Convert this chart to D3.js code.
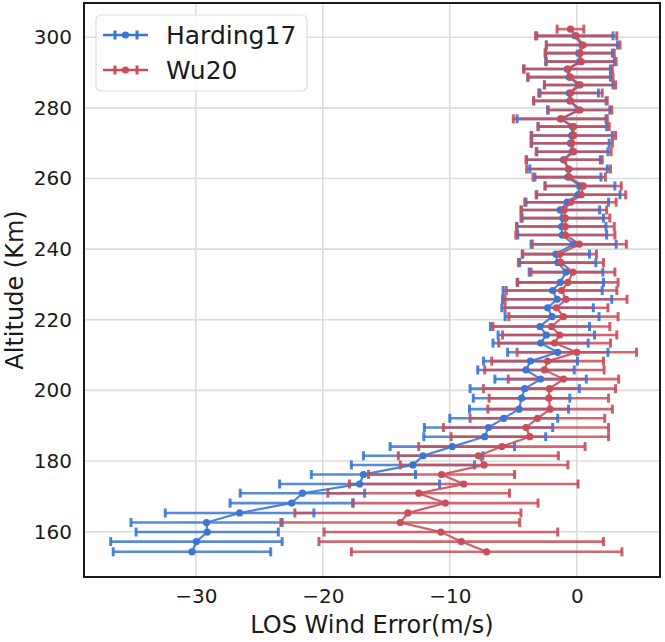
<!DOCTYPE html>
<html>
<head>
<meta charset="utf-8">
<script src="https://cdn.jsdelivr.net/npm/d3@7"></script>
<style>
  html, body { margin: 0; padding: 0; background: #ffffff; }
  svg { display: block; font-family: "DejaVu Sans", sans-serif; }
</style>
</head>
<body>
<svg id="chart" width="665" height="642"></svg>
<script>
// ---- data ----
const altitudes = [
  154.3, 157.2, 159.9, 162.6, 165.3, 168.1, 170.9, 173.5, 176.2, 178.9,
  181.5, 184.1, 186.9, 189.5, 192.1, 194.7, 197.8, 200.5, 203.2, 205.8,
  208.3, 210.8, 213.4, 215.7, 218.1, 220.9, 223.4, 225.8, 228.3, 230.6,
  233.5, 236.2, 238.6, 241.4, 244.0, 246.4, 248.8, 251.1, 253.3, 255.4,
  257.9, 260.4, 262.7, 265.3, 267.6, 270.0, 272.2, 274.7, 276.9, 279.4,
  282.0, 284.2, 286.5, 288.7, 291.0, 293.1, 295.5, 297.8, 300.4, 302.3
];
const harding17Mean = [
  -30.3, -29.95, -29.1, -29.15, -26.55, -22.45, -21.6, -17.1, -16.8, -12.9,
  -12.1, -9.8, -7.25, -6.95, -5.75, -4.55, -4.35, -4.1, -2.85, -4.0,
  -3.65, -1.5, -2.85, -2.4, -2.9, -1.95, -2.3, -1.55, -1.9, -1.3,
  -0.85, -1.5, -1.65, -0.25, -1.15, -1.2, -1.1, -1.3, -0.75, 0.1,
  0.25, -0.7, -0.65, -1.05, -0.35, -0.5, -0.4, -0.35, -1.2, 0.15,
  -0.55, -0.6, 0.15, -0.6, -0.75, 0.25, 0.15, 0.4, -0.15
];
const harding17Std = [
  6.2, 6.75, 5.6, 5.95, 5.85, 4.85, 4.9, 6.3, 4.1, 4.85,
  4.7, 4.9, 4.8, 5.05, 4.25, 3.9, 3.8, 4.3, 3.6, 3.8,
  3.7, 3.95, 3.75, 3.8, 3.9, 3.7, 3.6, 4.3, 3.9, 3.4,
  2.9, 3.0, 2.65, 3.35, 3.5, 3.5, 3.2, 3.1, 3.25, 3.3,
  2.75, 2.6, 3.05, 2.9, 2.8, 3.05, 3.2, 2.7, 3.5, 2.45,
  2.85, 2.3, 2.7, 3.25, 3.4, 2.7, 2.65, 2.8, 3.0
];
const wu20Mean = [
  -7.1, -9.1, -10.7, -13.9, -13.3, -10.35, -12.45, -8.9, -10.65, -7.3,
  -7.75, -5.9, -3.7, -4.0, -3.1, -2.1, -2.2, -2.15, -1.05, -2.55,
  -2.3, 0.0, -1.75, -1.35, -2.0, -1.05, -1.6, -0.85, -1.2, -0.7,
  -0.3, -1.25, -1.35, 0.2, -0.9, -0.9, -0.9, -1.0, -0.5, 0.35,
  0.5, -0.6, -0.65, -1.0, -0.25, -0.4, -0.25, -0.25, -1.3, 0.25,
  -0.5, -0.5, 0.25, -0.5, -0.7, 0.35, 0.25, 0.5, -0.05, -0.5
];
const wu20Std = [
  10.65, 11.2, 9.2, 9.4, 8.9, 7.3, 7.15, 9.0, 5.75, 6.6,
  6.3, 6.55, 6.2, 6.5, 5.3, 4.9, 4.7, 5.2, 4.35, 4.7,
  4.4, 4.7, 4.4, 4.5, 4.6, 4.3, 4.05, 4.8, 4.35, 3.95,
  3.3, 3.35, 2.9, 3.7, 3.9, 3.85, 3.5, 3.35, 3.6, 3.5,
  3.0, 2.85, 3.3, 3.0, 2.95, 3.2, 3.3, 2.8, 3.7, 2.5,
  2.9, 2.5, 2.8, 3.35, 3.5, 2.75, 2.7, 2.9, 3.2, 1.05
];
const seriesNames = ["Harding17", "Wu20"];
const seriesColors = ["#3a76d4", "#c94e58"];
const xTicks = [-30, -20, -10, 0];
const yTicks = [160, 180, 200, 220, 240, 260, 280, 300];
const xLabel = "LOS Wind Error(m/s)";
const yLabel = "Altitude (Km)";

// ---- layout ----
const svg = d3.select("#chart");
const L = 84, R = 660, T = 3, B = 577;
const x = d3.scaleLinear().domain([-38.8, 6.55]).range([L, R]);
const y = d3.scaleLinear().domain([147.17, 309.7]).range([B, T]);

const series = [
  { name: seriesNames[0], color: seriesColors[0],
    rows: harding17Mean.map((m, i) => ({ alt: altitudes[i], mean: m, std: harding17Std[i] })) },
  { name: seriesNames[1], color: seriesColors[1],
    rows: wu20Mean.map((m, i) => ({ alt: altitudes[i], mean: m, std: wu20Std[i] })) }
];

// grid
const grid = svg.append("g");
grid.selectAll(".gx").data(xTicks).enter().append("line")
  .attr("x1", d => x(d)).attr("x2", d => x(d)).attr("y1", T).attr("y2", B)
  .attr("stroke", "#dcdcdc").attr("stroke-width", 1.6);
grid.selectAll(".gy").data(yTicks).enter().append("line")
  .attr("x1", L).attr("x2", R).attr("y1", d => y(d)).attr("y2", d => y(d))
  .attr("stroke", "#dcdcdc").attr("stroke-width", 1.6);

// axes (labels only, no tick marks)
const xAxis = d3.axisBottom(x).tickValues(xTicks).tickSize(0).tickPadding(12)
  .tickFormat(d => d < 0 ? "\u2212" + Math.abs(d) : String(d));
const gx = svg.append("g").attr("transform", `translate(0,${B})`).call(xAxis);
gx.select(".domain").remove();
gx.selectAll("text").attr("font-size", 20).attr("fill", "#1a1a1a")
  .attr("font-family", "DejaVu Sans, sans-serif");

const yAxis = d3.axisLeft(y).tickValues(yTicks).tickSize(0).tickPadding(12);
const gy = svg.append("g").attr("transform", `translate(${L},0)`).call(yAxis);
gy.select(".domain").remove();
gy.selectAll("text").attr("font-size", 20).attr("fill", "#1a1a1a")
  .attr("font-family", "DejaVu Sans, sans-serif");

// plotting layers (matplotlib-like order)
const plot = svg.append("g");
const barsLayer = plot.append("g");
const topLayer = plot.append("g");
const capH = 4.5;
const line = d3.line().x(d => x(d.mean)).y(d => y(d.alt));

series.forEach(s => {
  barsLayer.append("g").selectAll("line").data(s.rows).enter().append("line")
    .attr("x1", d => x(d.mean - d.std)).attr("x2", d => x(d.mean + d.std))
    .attr("y1", d => y(d.alt)).attr("y2", d => y(d.alt))
    .attr("stroke", s.color).attr("stroke-width", 2.6).attr("stroke-opacity", 0.85);
});
series.forEach(s => {
  const g = topLayer.append("g");
  const caps = [];
  s.rows.forEach(d => { caps.push({ v: d.mean - d.std, alt: d.alt }); caps.push({ v: d.mean + d.std, alt: d.alt }); });
  g.selectAll("line.cap").data(caps).enter().append("line")
    .attr("x1", d => x(d.v)).attr("x2", d => x(d.v))
    .attr("y1", d => y(d.alt) - capH).attr("y2", d => y(d.alt) + capH)
    .attr("stroke", s.color).attr("stroke-width", 3).attr("stroke-opacity", 0.9);
  g.append("path").datum(s.rows).attr("d", line)
    .attr("fill", "none").attr("stroke", s.color).attr("stroke-width", 2.2)
    .attr("stroke-opacity", 0.9);
  g.selectAll("circle").data(s.rows).enter().append("circle")
    .attr("cx", d => x(d.mean)).attr("cy", d => y(d.alt)).attr("r", 3.6)
    .attr("fill", s.color);
});

// frame
svg.append("rect").attr("x", L).attr("y", T).attr("width", R - L).attr("height", B - T)
  .attr("fill", "none").attr("stroke", "#1a1a1a").attr("stroke-width", 2);

// axis titles
svg.append("text").attr("x", (L + R) / 2).attr("y", 633).attr("text-anchor", "middle")
  .attr("font-size", 24).attr("fill", "#1a1a1a").text(xLabel);
svg.append("text").attr("transform", `translate(23,${(T + B) / 2}) rotate(-90)`)
  .attr("text-anchor", "middle").attr("font-size", 24).attr("fill", "#1a1a1a").text(yLabel);

// legend
const lg = svg.append("g");
lg.append("rect").attr("x", 96).attr("y", 15).attr("width", 211).attr("height", 76)
  .attr("rx", 5).attr("fill", "#ffffff").attr("fill-opacity", 0.85)
  .attr("stroke", "#dddddd").attr("stroke-width", 1.2);
series.forEach((s, i) => {
  const cy = 35 + i * 35;
  const h = lg.append("g");
  h.append("line").attr("x1", 103).attr("x2", 148).attr("y1", cy).attr("y2", cy)
    .attr("stroke", s.color).attr("stroke-width", 2.4);
  [115, 137].forEach(cx => h.append("line").attr("x1", cx).attr("x2", cx)
    .attr("y1", cy - capH).attr("y2", cy + capH).attr("stroke", s.color).attr("stroke-width", 3));
  h.append("circle").attr("cx", 125.5).attr("cy", cy).attr("r", 3.6).attr("fill", s.color);
  lg.append("text").attr("x", 166).attr("y", cy).attr("dy", "0.35em")
    .attr("font-size", 25).attr("fill", "#1a1a1a").text(s.name);
});
</script>
</body>
</html>
